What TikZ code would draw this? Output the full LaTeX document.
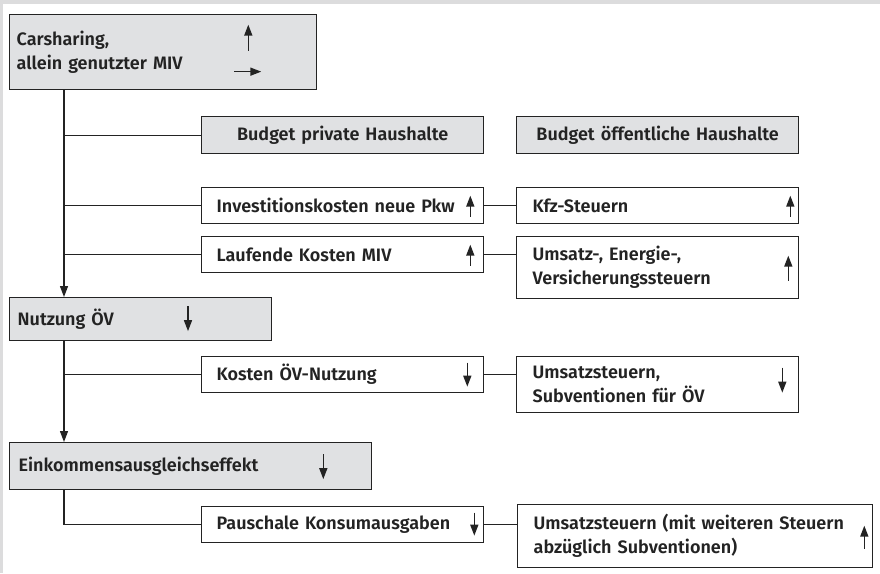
\documentclass[tikz,border=0pt]{standalone}
\usepackage{fontspec}
\setmainfont{Fira Sans}[UprightFont={* SemiBold}]
\usetikzlibrary{arrows.meta}

\definecolor{boxgray}{RGB}{224,225,227}
\definecolor{framegray}{RGB}{220,220,221}
\definecolor{ink}{RGB}{35,35,35}

\begin{document}
\begin{tikzpicture}[x=1pt, y=-1pt,
    box/.style={draw=ink, line width=1.3pt, inner xsep=15pt, inner ysep=0pt,
        anchor=north west, align=left, text=ink,
        font=\fontsize{18}{24}\selectfont},
    graybox/.style={box, fill=boxgray},
    whitebox/.style={box, fill=white},
    link/.style={draw=ink, line width=1.3pt},
    tip/.style={-{Stealth[length=11pt,width=8pt,inset=0pt]}},
    linkarrow/.style={link, tip},
    trend/.style={draw=ink, line width=1.5pt, tip}]

    % page frame
    \fill[framegray] (0,0) rectangle (880,573);
    \fill[white] (3,4) rectangle (880,573);
    \useasboundingbox (0,0) rectangle (880,573);

    % main effects (left)
    \node[graybox, inner xsep=7pt, text width=293pt, minimum height=75pt] (car) at (9,14)
        {Carsharing,\\allein genutzter MIV};
    \node[graybox, inner xsep=8pt, text width=246pt, minimum height=43pt] (nut) at (9,297)
        {Nutzung ÖV};
    \node[graybox, inner xsep=9pt, text width=344pt, minimum height=47pt] (ein) at (9,442)
        {Einkommensausgleichseffekt};

    % budget headers
    \node[graybox, align=center, text width=252pt, minimum height=37pt] (bpriv) at (201,116)
        {Budget private Haushalte};
    \node[graybox, align=center, text width=252pt, minimum height=37pt] (boeff) at (516,116)
        {Budget öffentliche Haushalte};

    % private households
    \node[whitebox, text width=252pt, minimum height=36pt] (inv) at (201,187)
        {Investitionskosten neue Pkw};
    \node[whitebox, text width=252pt, minimum height=36pt] (lauf) at (201,236)
        {Laufende Kosten MIV};
    \node[whitebox, text width=252pt, minimum height=36pt] (kos) at (201,356)
        {Kosten ÖV-Nutzung};
    \node[whitebox, text width=252pt, minimum height=36pt] (paus) at (201,506)
        {Pauschale Konsumausgaben};

    % public households
    \node[whitebox, inner xsep=16pt, text width=250pt, minimum height=36pt] (kfz) at (516,187)
        {Kfz-Steuern};
    \node[whitebox, inner xsep=16pt, text width=250pt, minimum height=62pt] (uel) at (516,236)
        {Umsatz-, Energie-,\\Versicherungssteuern};
    \node[whitebox, inner xsep=16pt, text width=250pt, minimum height=56pt] (ust) at (516,356)
        {Umsatzsteuern,\\Subventionen für ÖV};
    \node[whitebox, inner xsep=16pt, text width=323pt, minimum height=63pt] (ustw) at (517,504)
        {Umsatzsteuern (mit weiteren Steuern\\abzüglich Subventionen)};

    % spines
    \coordinate (spine) at ([xshift=55pt]car.south west);
    \coordinate (spine2) at ([xshift=55pt]nut.south west);
    \draw[linkarrow] (spine) -- (spine |- nut.north);
    \draw[link] (spine |- bpriv.west) -- (bpriv.west);
    \draw[link] (spine |- inv.west) -- (inv.west);
    \draw[link] (spine |- lauf.west) -- (lauf.west);
    \draw[linkarrow] (spine2) -- (spine2 |- ein.north);
    \draw[link] (spine2 |- kos.west) -- (kos.west);
    \draw[link] ([xshift=55pt]ein.south west) |- (paus.west);

    % private -> public
    \draw[link] (inv.east) -- (kfz.west);
    \draw[link] (lauf.east) -- (lauf.east -| uel.west);
    \draw[link] (kos.east) -- (kos.east -| ust.west);
    \draw[link] (paus.east) -- (paus.east -| ustw.west);

    % trends
    \draw[trend] ([shift={(-69,-1.5)}]car.east) -- ++(0,-26);
    \draw[trend] ([shift={(-83,19.5)}]car.east) -- ++(27,0);
    \draw[trend] ([shift={(-14,11)}]inv.east) -- ++(0,-21);
    \draw[trend] ([shift={(-9,11)}]kfz.east) -- ++(0,-21);
    \draw[trend] ([shift={(-14,11)}]lauf.east) -- ++(0,-21);
    \draw[trend] ([shift={(-11,13)}]uel.east) -- ++(0,-25);
    \draw[trend] ([shift={(179,-13)}]nut.west) -- ++(0,25);
    \draw[trend] ([shift={(-17,-12)}]kos.east) -- ++(0,24);
    \draw[trend] ([shift={(-17,-17)}]ust.east) -- ++(0,25);
    \draw[trend] ([shift={(-49,-12)}]ein.east) -- ++(0,25);
    \draw[trend] ([shift={(-10,-12)}]paus.east) -- ++(0,23);
    \draw[trend] ([shift={(-9,12.5)}]ustw.east) -- ++(0,-23);

\end{tikzpicture}
\end{document}
